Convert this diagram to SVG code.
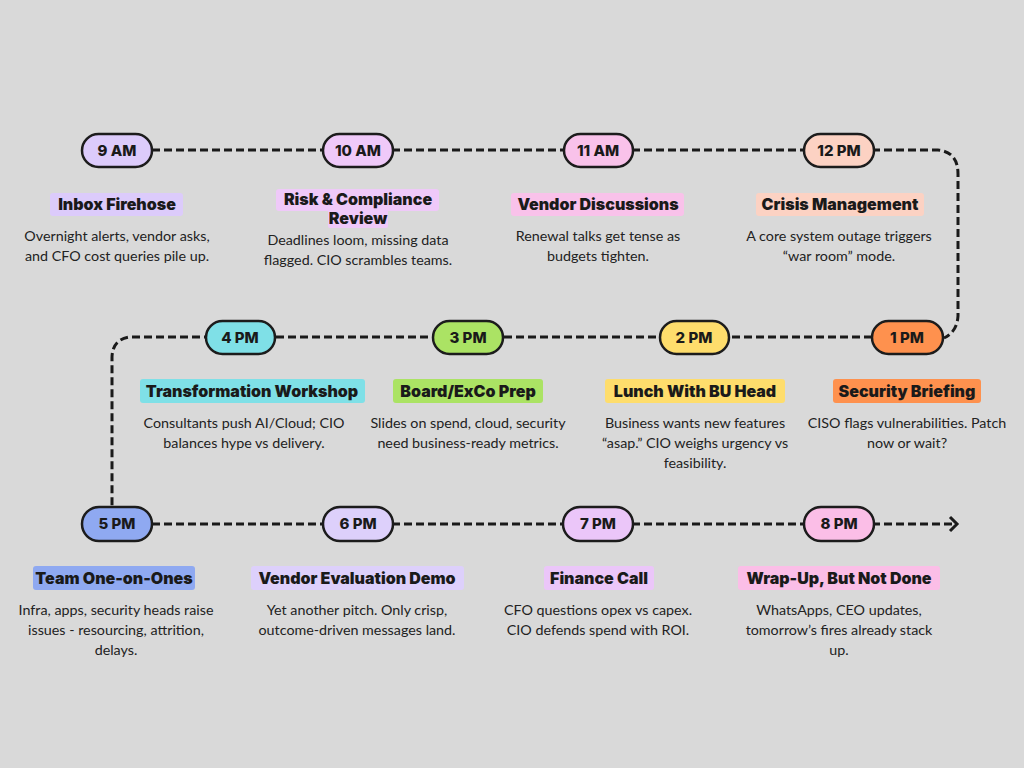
<svg xmlns="http://www.w3.org/2000/svg" width="1024" height="768" viewBox="0 0 1024 768">
<defs>
<style>
.pill{stroke:#1c1c1c;stroke-width:2.5}
.pt{font-family:Inter,"Noto Sans",sans-serif;font-weight:800;font-size:15px;fill:#1a1a1a;text-anchor:middle}
.tt{font-family:Inter,"Noto Sans",sans-serif;font-weight:900;font-size:16px;fill:#1a1a1a;text-anchor:middle}
.bd{font-family:Lato,"Noto Sans",sans-serif;font-size:14.3px;fill:#222;text-anchor:middle}
.conn{fill:none;stroke:#1a1a1a;stroke-width:3;stroke-dasharray:8 4}
</style>
</defs>
<rect width="1024" height="768" fill="#d9d9d9"/>
<g id="connectors">
<path class="conn" d="M152,150 H938 Q958,152 958,174 V316 Q957,332 944,338"/>
<path class="conn" d="M872,337 H129 Q112,340 112,358 V507"/>
<path class="conn" d="M152,524 H955"/>
<polyline points="950,517 957,524 950,531" fill="none" stroke="#1a1a1a" stroke-width="3"/>
</g>
<g id="n9am">
<rect class="pill" x="82" y="134" width="70" height="33" rx="16.5" fill="#dccbfb"/>
<text class="pt" x="117" y="156">9 AM</text>
<rect x="50" y="193" width="133" height="23" rx="3" fill="#dccbfb"/>
<text class="tt" x="117" y="210">Inbox Firehose</text>
<text class="bd" x="117" y="241">Overnight alerts, vendor asks,</text>
<text class="bd" x="117" y="261">and CFO cost queries pile up.</text>
</g>
<g id="n10am">
<rect class="pill" x="323" y="134" width="70" height="33" rx="16.5" fill="#efc9f9"/>
<text class="pt" x="358" y="156">10 AM</text>
<rect x="276" y="189" width="163" height="22" rx="3" fill="#efc9f9"/>
<rect x="328" y="209" width="60" height="19" rx="2" fill="#efc9f9"/>
<text class="tt" x="358" y="205">Risk &amp; Compliance</text>
<text class="tt" x="358" y="224">Review</text>
<text class="bd" x="358" y="245">Deadlines loom, missing data</text>
<text class="bd" x="358" y="265">flagged. CIO scrambles teams.</text>
</g>
<g id="n11am">
<rect class="pill" x="564" y="134" width="69" height="33" rx="16.5" fill="#f9c2ea"/>
<text class="pt" x="598" y="156">11 AM</text>
<rect x="511" y="193" width="173" height="23" rx="3" fill="#f9c2ea"/>
<text class="tt" x="598" y="210">Vendor Discussions</text>
<text class="bd" x="598" y="241">Renewal talks get tense as</text>
<text class="bd" x="598" y="261">budgets tighten.</text>
</g>
<g id="n12pm">
<rect class="pill" x="804" y="134" width="70" height="33" rx="16.5" fill="#fcd2c3"/>
<text class="pt" x="839" y="156">12 PM</text>
<rect x="756" y="193" width="168" height="23" rx="3" fill="#fcd2c3"/>
<text class="tt" x="840" y="210">Crisis Management</text>
<text class="bd" x="839" y="241">A core system outage triggers</text>
<text class="bd" x="839" y="261">“war room” mode.</text>
</g>
<g id="n1pm">
<rect class="pill" x="872" y="321" width="71" height="33" rx="16.5" fill="#fe914e"/>
<text class="pt" x="907" y="343">1 PM</text>
<rect x="833" y="379" width="148" height="24" rx="3" fill="#fe914e"/>
<text class="tt" x="907" y="397">Security Briefing</text>
<text class="bd" x="907" y="428">CISO flags vulnerabilities. Patch</text>
<text class="bd" x="907" y="448">now or wait?</text>
</g>
<g id="n2pm">
<rect class="pill" x="660" y="321" width="69" height="33" rx="16.5" fill="#fedd6c"/>
<text class="pt" x="694" y="343">2 PM</text>
<rect x="605" y="379" width="180" height="24" rx="3" fill="#fedd6c"/>
<text class="tt" x="695" y="397">Lunch With BU Head</text>
<text class="bd" x="695" y="428">Business wants new features</text>
<text class="bd" x="695" y="448">“asap.” CIO weighs urgency vs</text>
<text class="bd" x="695" y="468">feasibility.</text>
</g>
<g id="n3pm">
<rect class="pill" x="433" y="321" width="70" height="33" rx="16.5" fill="#abe364"/>
<text class="pt" x="468" y="343">3 PM</text>
<rect x="393" y="379" width="150" height="24" rx="3" fill="#abe364"/>
<text class="tt" x="468" y="397">Board/ExCo Prep</text>
<text class="bd" x="468" y="428">Slides on spend, cloud, security</text>
<text class="bd" x="468" y="448">need business-ready metrics.</text>
</g>
<g id="n4pm">
<rect class="pill" x="206" y="321" width="69" height="33" rx="16.5" fill="#7fe0e7"/>
<text class="pt" x="240" y="343">4 PM</text>
<rect x="140" y="379" width="225" height="24" rx="3" fill="#7fe0e7"/>
<text class="tt" x="252" y="397">Transformation Workshop</text>
<text class="bd" x="244" y="428">Consultants push AI/Cloud; CIO</text>
<text class="bd" x="244" y="448">balances hype vs delivery.</text>
</g>
<g id="n5pm">
<rect class="pill" x="82" y="507" width="70" height="34" rx="17" fill="#8fa9f1"/>
<text class="pt" x="117" y="529">5 PM</text>
<rect x="33" y="566" width="162" height="24" rx="3" fill="#8fa9f1"/>
<text class="tt" x="114" y="584">Team One-on-Ones</text>
<text class="bd" x="116" y="615">Infra, apps, security heads raise</text>
<text class="bd" x="116" y="635">issues - resourcing, attrition,</text>
<text class="bd" x="116" y="655">delays.</text>
</g>
<g id="n6pm">
<rect class="pill" x="323" y="507" width="70" height="34" rx="17" fill="#ddd0fb"/>
<text class="pt" x="358" y="529">6 PM</text>
<rect x="251" y="566" width="213" height="24" rx="3" fill="#ddd0fb"/>
<text class="tt" x="357" y="584">Vendor Evaluation Demo</text>
<text class="bd" x="357" y="615">Yet another pitch. Only crisp,</text>
<text class="bd" x="357" y="635">outcome-driven messages land.</text>
</g>
<g id="n7pm">
<rect class="pill" x="563" y="507" width="70" height="34" rx="17" fill="#ebc6f9"/>
<text class="pt" x="598" y="529">7 PM</text>
<rect x="544" y="566" width="110" height="24" rx="3" fill="#ebc6f9"/>
<text class="tt" x="599" y="584">Finance Call</text>
<text class="bd" x="598" y="615">CFO questions opex vs capex.</text>
<text class="bd" x="598" y="635">CIO defends spend with ROI.</text>
</g>
<g id="n8pm">
<rect class="pill" x="804" y="507" width="70" height="34" rx="17" fill="#fbbee7"/>
<text class="pt" x="839" y="529">8 PM</text>
<rect x="738" y="566" width="202" height="24" rx="3" fill="#fbbee7"/>
<text class="tt" x="839" y="584">Wrap-Up, But Not Done</text>
<text class="bd" x="839" y="615">WhatsApps, CEO updates,</text>
<text class="bd" x="839" y="635">tomorrow’s fires already stack</text>
<text class="bd" x="839" y="655">up.</text>
</g>
</svg>
